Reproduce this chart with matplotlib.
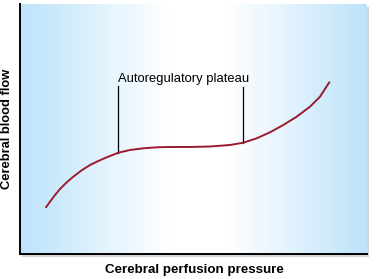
import numpy as np
import matplotlib

matplotlib.use("Agg")

import matplotlib.pyplot as plt
from matplotlib.colors import LinearSegmentedColormap
from matplotlib.patches import Rectangle

# curva (x: presion de perfusion, y: flujo sanguineo)
presion = [7.49, 8.65, 10.09, 11.53, 13.46, 15.36, 17.78, 20.17, 22.56,
           24.99, 28.33, 31.70, 35.53, 39.39, 43.23, 48.99, 54.76, 60.52,
           64.35, 68.21, 72.05, 75.88, 79.74, 83.57, 86.46, 89.14]
flujo = [18.68, 20.92, 23.6, 26.0, 28.68, 30.92, 33.48, 35.6, 37.2,
         38.68, 40.52, 41.6, 42.28, 42.68, 42.8, 42.8, 43.0, 43.6,
         44.52, 46.28, 48.68, 51.6, 54.92, 58.92, 62.92, 68.68]

# extremos de la meseta autorregulada
meseta_x = [28.33, 64.35]
meseta_y = [40.52, 44.52]
meseta_top = [67.2, 67.0]

ROJO = "#9b1b30"
AZUL = "#bde3fa"

fig = plt.figure(figsize=(3.77, 2.79), dpi=100)
ax = fig.add_axes([20 / 377, 25 / 279, 347 / 377, 250 / 279], zorder=1)
ax.set_xlim(0, 100)
ax.set_ylim(0, 100)

# sombra gris a la derecha y abajo
sombra = Rectangle((20 / 377 + 0.006, 25 / 279 - 0.01), 347 / 377, 250 / 279,
                   transform=fig.transFigure, facecolor="#d4d4d4",
                   edgecolor="none", zorder=-1)
fig.patches.append(sombra)

# fondo degradado azul-blanco-azul
cmap = LinearSegmentedColormap.from_list(
    "fondo", [(0, AZUL), (0.43, "white"), (0.6, "white"), (1, AZUL)])
grad = np.linspace(0, 1, 400).reshape(1, -1)
ax.imshow(grad, cmap=cmap, extent=[0, 100, 0, 100], aspect="auto", zorder=0)

ax.plot(presion, flujo, color=ROJO, lw=1.4, solid_capstyle="round", zorder=3)

for x, y0, y1 in zip(meseta_x, meseta_y, meseta_top):
    ax.plot([x, x], [y0, y1], color="black", lw=0.9, zorder=2)

ax.text(47.1, 68.8, "Autoregulatory plateau", ha="center", va="baseline",
        fontsize=9.4, family="Liberation Sans")

for lado in ("top", "right"):
    ax.spines[lado].set_visible(False)
for lado in ("left", "bottom"):
    ax.spines[lado].set_linewidth(1.4)
ax.set_xticks([])
ax.set_yticks([])

fig.text(194 / 377, 1 - 270 / 279, "Cerebral perfusion pressure", ha="center",
         va="center", fontsize=9.6, weight="bold", family="Liberation Sans")
fig.text(7 / 377, 1 - 129 / 279, "Cerebral blood flow", ha="center",
         va="center", rotation=90, fontsize=9.3, weight="bold",
         family="Liberation Sans")

fig.savefig("out.png", dpi=100)
